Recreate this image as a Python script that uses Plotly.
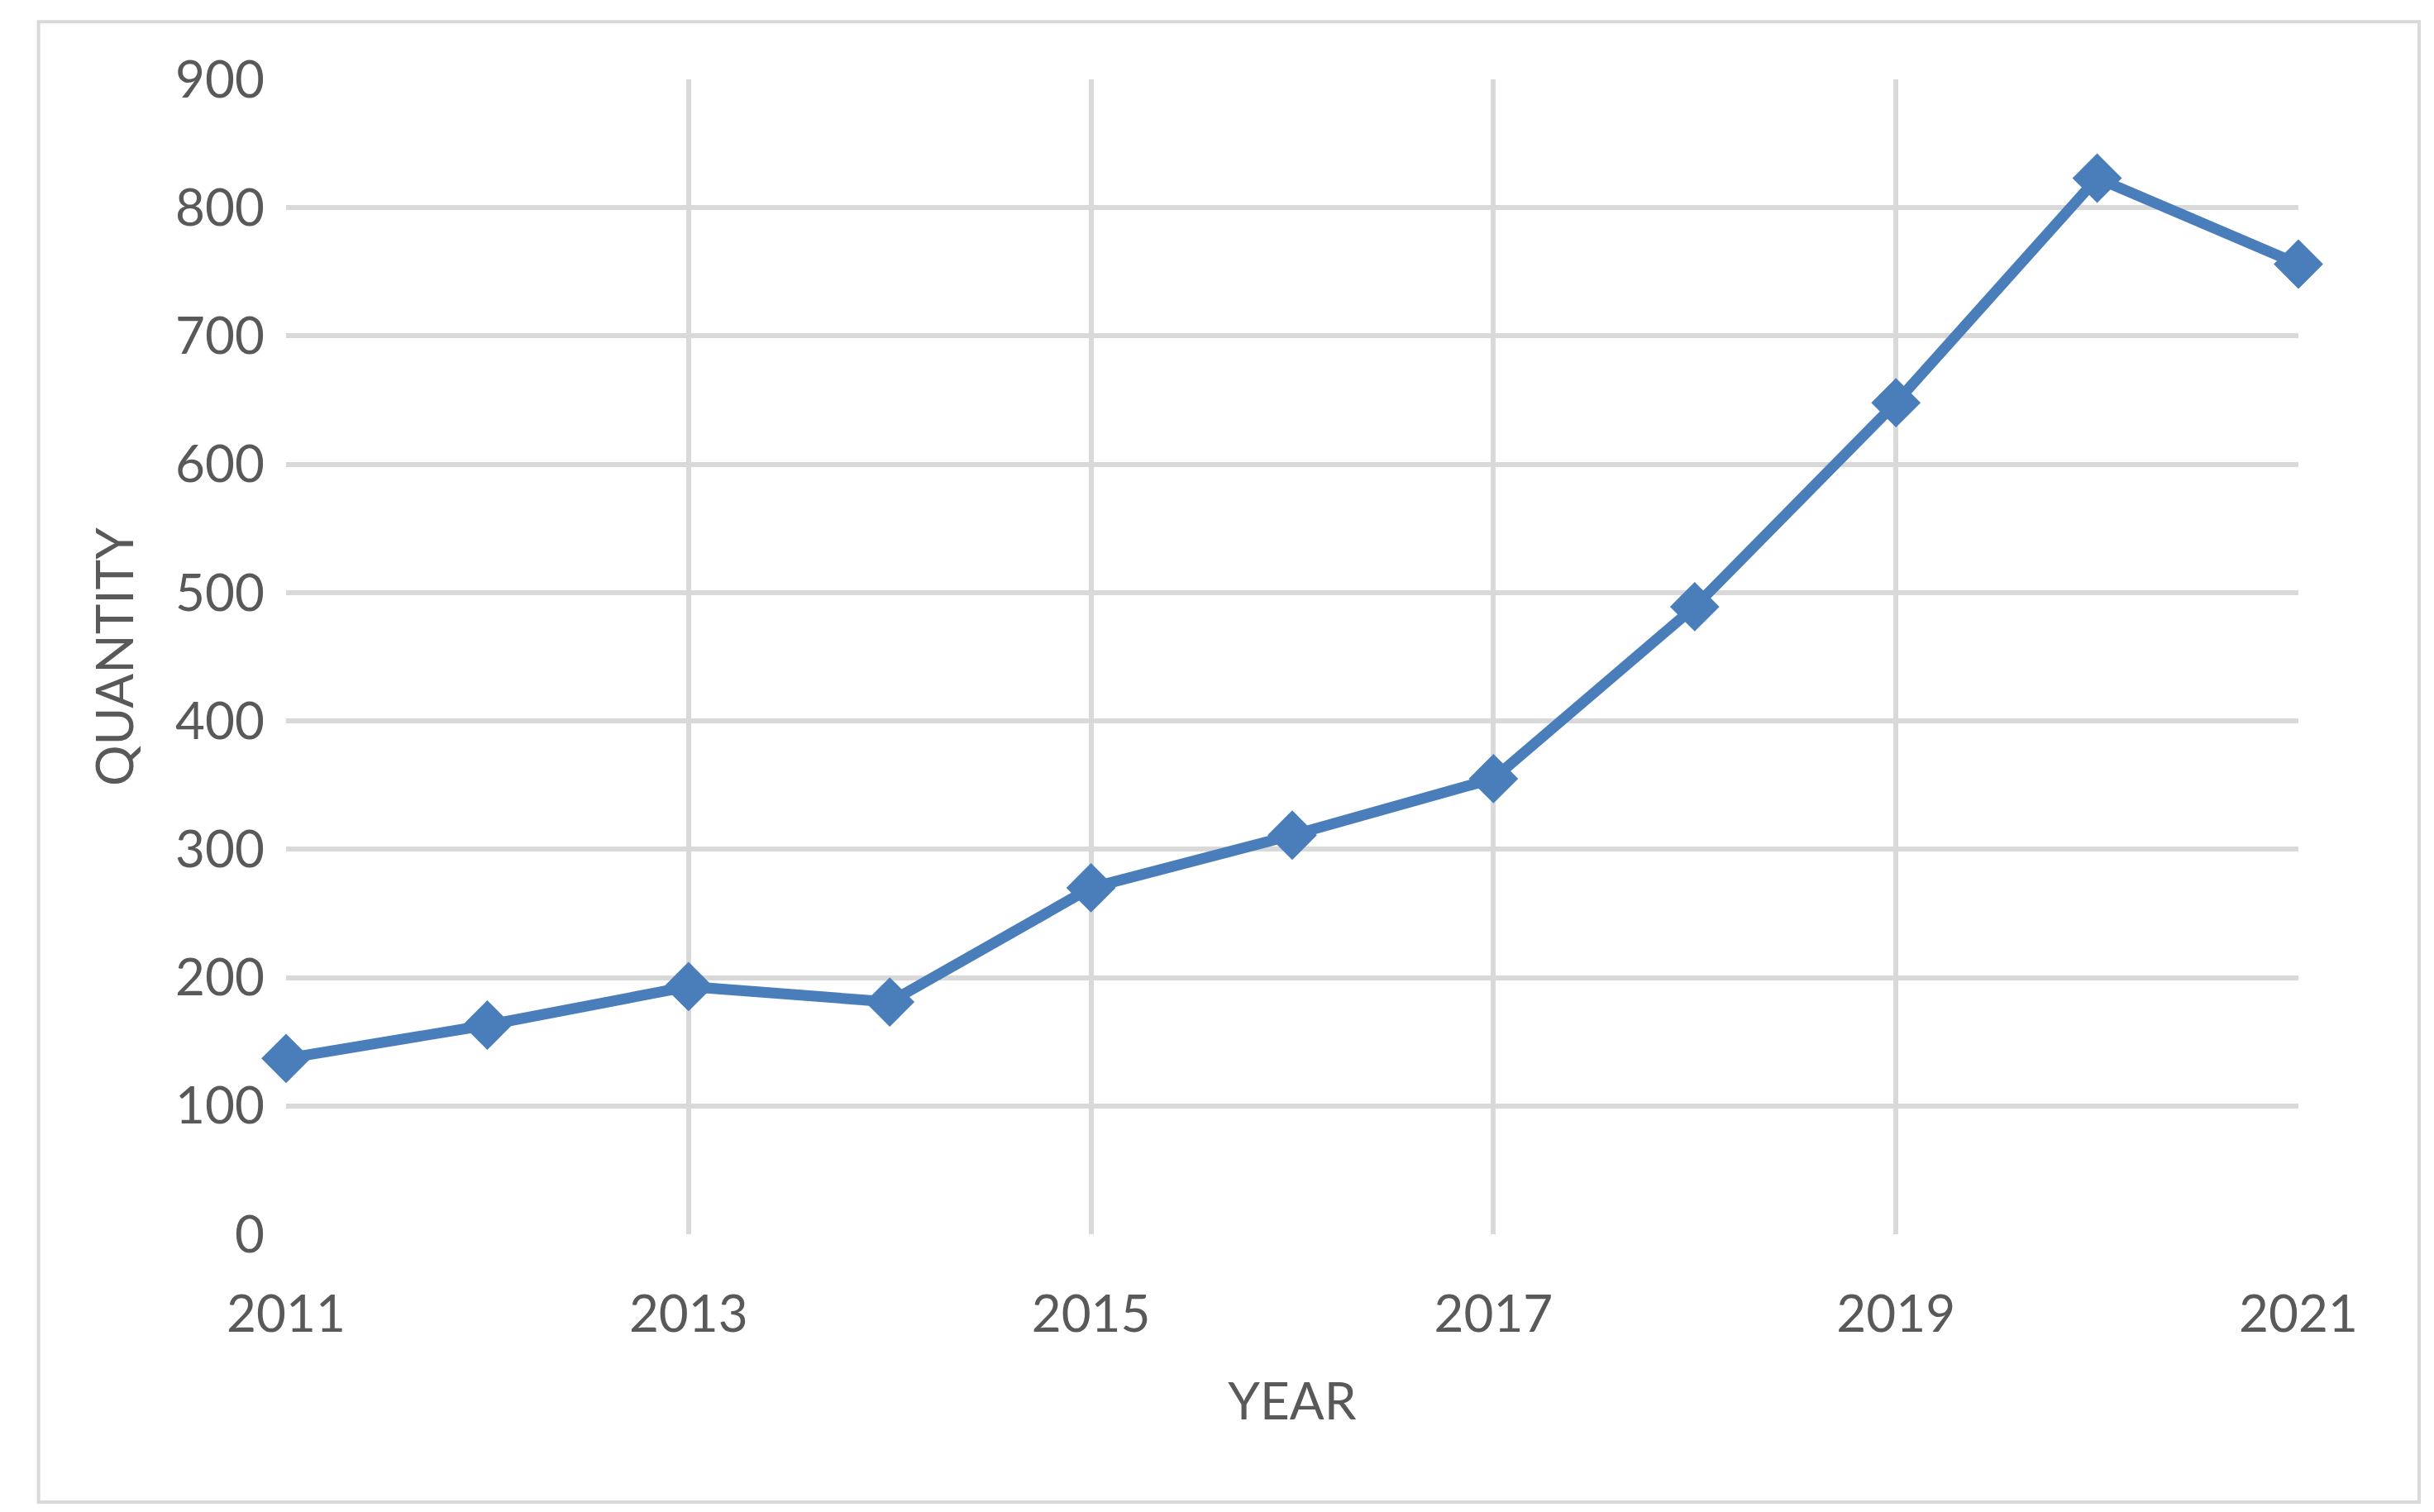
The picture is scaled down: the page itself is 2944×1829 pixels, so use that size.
import plotly.graph_objects as go

years = [2011, 2012, 2013, 2014, 2015, 2016, 2017, 2018, 2019, 2020, 2021]
quantity = [137, 163, 193, 181, 270, 311, 355, 489, 648, 823, 756]
x_ticks = [2011, 2013, 2015, 2017, 2019, 2021]

fig = go.Figure(go.Scatter(
    x=years, y=quantity, mode="lines+markers", cliponaxis=False,
    line=dict(color="#4A7EBB", width=13),
    marker=dict(symbol="diamond", size=46, color="#4A7EBB"),
))
font = dict(family="Lato, Open Sans, sans-serif", color="#595959", size=62)
fig.update_layout(
    width=2944, height=1829, paper_bgcolor="white", plot_bgcolor="white",
    margin=dict(l=338, r=172, t=88, b=344), showlegend=False, font=font,
    xaxis=dict(range=[2011, 2021], tickvals=x_ticks, showgrid=True, gridcolor="#D9D9D9",
               gridwidth=6, zeroline=False, showline=False, ticks="",
               ticklabelstandoff=55,
               title=dict(text="YEAR", font=font, standoff=50)),
    yaxis=dict(range=[0, 900], dtick=100, showgrid=True, gridcolor="#D9D9D9",
               gridwidth=6, zeroline=False, ticks="", ticklabelstandoff=25,
               title=dict(text="QUANTITY", font=font, standoff=30)),
    shapes=[dict(type="rect", xref="paper", yref="paper", x0=-0.123, x1=1.06,
                 y0=-0.232, y1=1.05, line=dict(color="#D9D9D9", width=4))],
)
fig.write_html("out.html")
